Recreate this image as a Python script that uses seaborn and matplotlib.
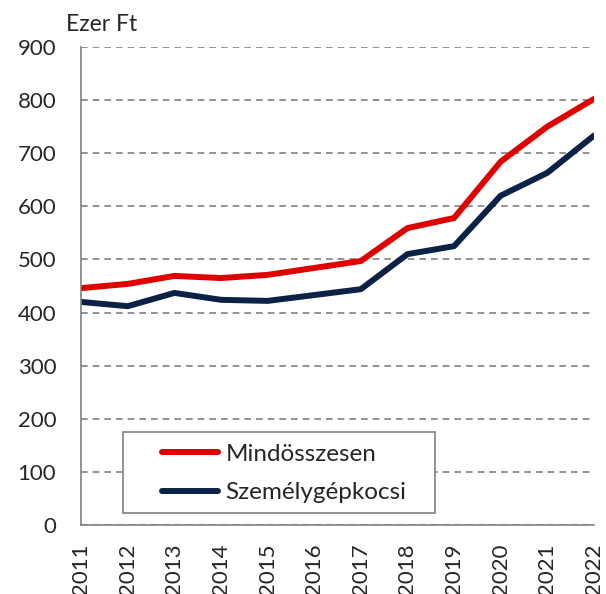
import matplotlib
matplotlib.use('Agg')
import matplotlib.pyplot as plt
import matplotlib.patches as mpatches
import seaborn as sns
import pandas as pd

# adatok (ezer Ft)
years = [2011, 2012, 2013, 2014, 2015, 2016, 2017, 2018, 2019, 2020, 2021, 2022]
osszesen = [446, 454, 469, 465, 471, 484, 497, 559, 578, 684, 750, 802]
szemely = [420, 412, 437, 424, 422, 433, 444, 510, 525, 620, 663, 733]
series_names = ['Mindösszesen', 'Személygépkocsi']
colors = ['#e00000', '#0c2146']

df = pd.DataFrame({'year': years + years,
                   'value': osszesen + szemely,
                   'series': [series_names[0]] * len(years) + [series_names[1]] * len(years)})

sns.set_style('white')
plt.rcParams['font.family'] = ['Lato', 'DejaVu Sans']
plt.rcParams['font.size'] = 16

fig = plt.figure(figsize=(6.06, 5.94), dpi=100)
ax = fig.add_axes([0.134, 0.116, 0.846, 0.805])

sns.lineplot(data=df, x='year', y='value', hue='series', palette=colors,
             linewidth=4.3, ax=ax, legend=True)
for line in ax.lines:
    line.set_solid_capstyle('round')
    line.set_solid_joinstyle('round')

ax.set_xlim(2011, 2022)
ax.set_ylim(0, 900)
ax.set_yticks(range(0, 901, 100))
ax.set_xticks(years)
ax.set_xticklabels([str(y) for y in years], rotation=90)
ax.tick_params(axis='y', labelsize=16, length=0, pad=18)
ax.tick_params(axis='x', labelsize=16, length=0, pad=13)
ax.set_xlabel('')
ax.set_ylabel('')

ax.yaxis.grid(True, linestyle=(0, (4, 3)), color='#808080', linewidth=1.2)
ax.set_axisbelow(True)
for s in ['top', 'right']:
    ax.spines[s].set_visible(False)
for s in ['left', 'bottom']:
    ax.spines[s].set_color('#808080')
    ax.spines[s].set_linewidth(1.2)

ax.text(-0.03, 1.025, 'Ezer Ft', transform=ax.transAxes, fontsize=16.5,
        ha='left', va='bottom')

# legend box drawn separately, legend itself without frame
box = mpatches.Rectangle((0.082, 0.025), 0.608, 0.170, transform=ax.transAxes,
                         facecolor='white', edgecolor='#808080', linewidth=1.2,
                         zorder=4)
ax.add_patch(box)
leg = ax.legend(loc='upper left', bbox_to_anchor=(0.158, 0.170),
                frameon=False, fontsize=17.5, handlelength=2.3,
                handletextpad=0.3, borderpad=0, labelspacing=0.72,
                borderaxespad=0)
leg.set_zorder(5)
for h in leg.get_lines():
    h.set_linewidth(4.3)
    h.set_solid_capstyle('round')

fig.savefig('out.png', dpi=100)
